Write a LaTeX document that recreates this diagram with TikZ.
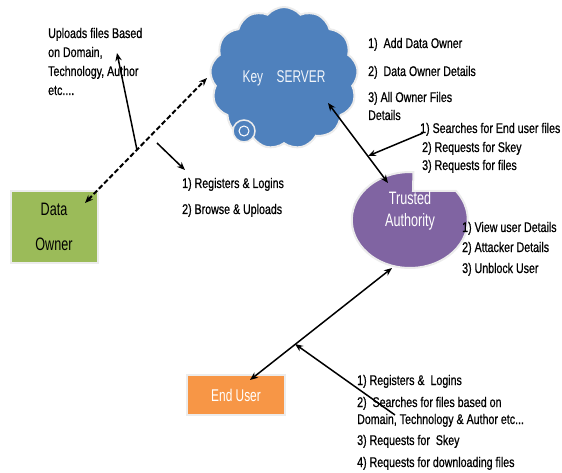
\documentclass[tikz,border=0pt]{standalone}
\usepackage{fontspec}
\setmainfont{Liberation Sans}[FakeStretch=0.76,FakeBold=0.6]
\newfontfamily\entfont{Liberation Sans}[FakeStretch=0.7]
\usetikzlibrary{arrows.meta,shapes.symbols,shapes.geometric}
\definecolor{ksblue}{HTML}{4F81BD}
\definecolor{dogreen}{HTML}{9BBB59}
\definecolor{euorange}{HTML}{F79646}
\definecolor{tapurple}{HTML}{8064A2}
\tikzset{
  lbl/.style={anchor=base west,inner sep=0pt,font=\fontsize{14}{16}\selectfont},
  conn/.style={line width=1.5pt},
  entity/.style={rectangle,draw=gray!15,line width=2pt,inner sep=0pt,font=\entfont\fontsize{18}{35}\selectfont,align=center}
}
\begin{document}
\begin{tikzpicture}[x=1pt,y=-1pt,>={Stealth[length=8pt,width=6.5pt]}]
\useasboundingbox (0,0) rectangle (562,473);
% entities
\node[cloud,cloud puffs=13,cloud puff arc=100,aspect=1.05,fill=ksblue,draw=gray!15,line width=2pt,
  minimum width=148pt,minimum height=142pt,text=white!92!ksblue,font=\entfont\fontsize{17}{19}\selectfont] (ks) at (284,78) {Key\hspace{0.8em}SERVER};
\draw[fill=ksblue,draw=gray!15,line width=1.5pt] (244,131) circle (11);
\draw[white,line width=1pt] (244,131) circle (5);
\node[entity,fill=dogreen,minimum width=87pt,minimum height=71pt] (do) at (54,227) {Data\\Owner};
\node[entity,fill=euorange,minimum width=98pt,minimum height=40pt,text=white,font=\entfont\fontsize{17}{20}\selectfont] (eu) at (236,395) {End User};
\draw[fill=tapurple,draw=gray!15,line width=2pt] (413,191) -- (456,191)
  arc[start angle=322.8,end angle=633.6,x radius=58,y radius=48] -- cycle;
\node[ellipse,minimum width=116pt,minimum height=96pt,inner sep=0pt] (ta) at (410,220) {};
\node[text=white,align=center,font=\entfont\fontsize{18}{22}\selectfont] (talbl) at (410,211) {Trusted\\Authority};
% labels
\node[lbl] (up1) at (48,38) {Uploads files Based};
\node[lbl] (up2) at (48,57) {on Domain,};
\node[lbl] (up3) at (48,76) {Technology, Author};
\node[lbl] (up4) at (48,95) {etc....};
\node[lbl] (do1) at (182,188) {1) Registers \& Logins};
\node[lbl] (do2) at (182,214) {2) Browse \& Uploads};
\node[lbl] (ks1) at (368,48) {1)\ \ Add Data Owner};
\node[lbl] (ks2) at (368,76) {2)\ \ Data Owner Details};
\node[lbl] (ks3) at (368,102) {3) All Owner Files};
\node[lbl] (ks4) at (368,120) {Details};
\node[lbl] (sr1) at (420,133) {1) Searches for End user files};
\node[lbl] (sr2) at (422,152) {2) Requests for Skey};
\node[lbl] (sr3) at (422,170) {3) Requests for files};
\node[lbl] (ta1) at (462,232) {1) View user Details};
\node[lbl] (ta2) at (462,252) {2) Attacker Details};
\node[lbl] (ta3) at (462,273) {3) Unblock User};
\node[lbl] (eu1) at (357,385) {1) Registers \&\ \ Logins};
\node[lbl] (eu2) at (357,407) {2)\ \ Searches for files based on};
\node[lbl] (eu3) at (357,424) {Domain, Technology \& Author etc...};
\node[lbl] (eu4) at (357,445) {3) Requests for\ \ Skey};
\node[lbl] (eu5) at (357,467) {4) Requests for downloading files};
% connector ends
\coordinate (dotip) at (85,203);
\coordinate (kswest) at (207,78);
\coordinate (kstip) at (328,103);
\coordinate (tatop) at (388,183);
\coordinate (tabot) at (392,268);
\coordinate (eutip) at (250,380);
\coordinate (uptip) at (117,53);
\coordinate (regtip) at (185,170);
\coordinate (j1) at (137,150);
\coordinate (j2) at (157,143);
\coordinate (j3) at (368,156);
\coordinate (j4) at (295,344);
\coordinate (srtail) at (423,133);
\coordinate (eutail) at (395,415);
% connectors
\draw[<->,line width=2pt,dash pattern=on 5pt off 2.5pt] (dotip) -- (kswest);
\draw[->,conn] (j1) -- (uptip);
\draw[->,conn] (j2) -- (regtip);
\draw[<->,conn] (kstip) -- (tatop);
\draw[->,conn] (srtail) -- (j3);
\draw[<->,conn] (eutip) -- (tabot);
\draw[->,conn] (eutail) -- (j4);
\end{tikzpicture}
\end{document}
